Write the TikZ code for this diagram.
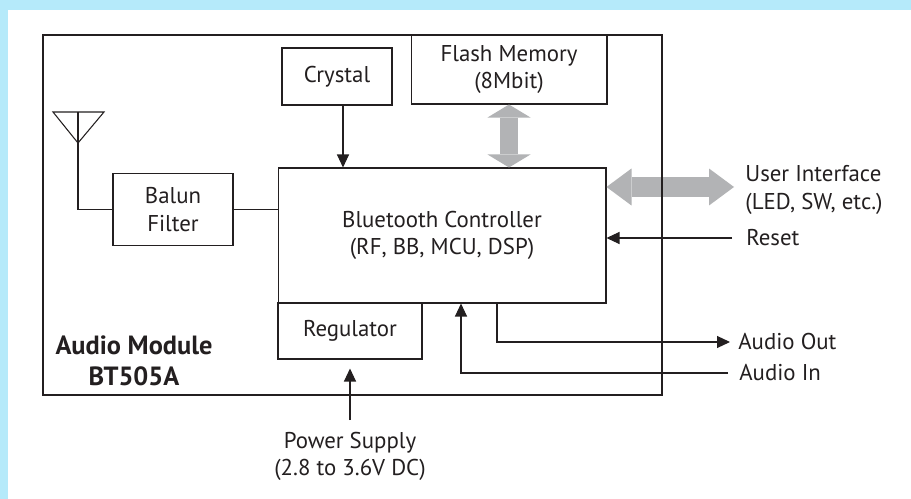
\documentclass[tikz,border=0pt]{standalone}
\usepackage{fontspec}
\setmainfont{PT Sans}
\usetikzlibrary{arrows.meta,positioning,calc}
\definecolor{framecyan}{RGB}{181,234,250}
\definecolor{inkgray}{RGB}{35,31,32}
\definecolor{busgray}{RGB}{178,179,181}
\tikzset{
    % Block styles
    block/.style={
        rectangle, draw=inkgray, line width=0.6pt, fill=white,
        align=center, text=inkgray, inner sep=0pt,
        font=\fontsize{13}{15.5}\selectfont
    },
    modframe/.style={
        rectangle, draw=inkgray, line width=0.8pt,
        minimum width=12.38cm, minimum height=7.2cm
    },
    sigtext/.style={
        text=inkgray, inner sep=0pt, align=left,
        font=\fontsize{13}{15.5}\selectfont
    },
    % Connector styles
    sigline/.style={draw=inkgray, line width=0.6pt},
    sigarrow/.style={sigline, -{Triangle[length=0.26cm,width=0.24cm]}},
    busarrow/.style={
        draw=busgray, line width=0.36cm,
        {Triangle[length=0.26cm,width=0.86cm,line width=0pt]}-{Triangle[length=0.26cm,width=0.86cm,line width=0pt]}
    },
    uibus/.style={
        draw=busgray, line width=0.4cm,
        {Triangle[length=0.5cm,width=0.74cm,line width=0pt]}-{Triangle[length=0.5cm,width=0.74cm,line width=0pt]}
    }
}

\begin{document}
\begin{tikzpicture}[x=0.02cm,y=-0.02cm]

% Page background
\fill[framecyan] (0,0) rectangle (911,499);
\fill[white] (8,10) rectangle (911,499);
\useasboundingbox (0,0) rectangle (911,499);

% Blocks
\node[block, minimum width=2.2cm, minimum height=1.14cm] (crystal) at (337,76.5) {Crystal};
\node[block, minimum width=3.92cm, minimum height=1.38cm] (flash) at (509,69.5) {Flash Memory\\(8Mbit)};
\node[block, minimum width=2.4cm, minimum height=1.44cm] (balun) at (173,209.5) {Balun\\Filter};
\node[block, minimum width=6.56cm, minimum height=2.7cm] (bt) at (442,235.5) {Bluetooth Controller\\(RF, BB, MCU, DSP)};
\node[block, minimum width=2.88cm, minimum height=1.12cm] (reg) at (350,331) {Regulator};

% Module name
\node[sigtext, align=center, font=\fontsize{15}{17.5}\selectfont\bfseries] (modname) at (134,360.5) {Audio Module\\BT505A};

% Antenna
\coordinate (ant) at (78,112);
\draw[sigline] (53,112) -- (104,112) -- (78,143) -- cycle;
\draw[sigline] (ant) |- (balun.west);
\draw[sigline] (balun.east) -- (balun.east -| bt.west);

% Crystal and flash
\draw[sigarrow] ([xshift=0.12cm]crystal.south) -- ([xshift=0.12cm]crystal.south |- bt.north);
\draw[busarrow] (flash.south) -- (flash.south |- bt.north);

% External signals
\node[sigtext, anchor=west] (ui) at (745,190) {User Interface\\(LED, SW, etc.)};
\coordinate (uitip) at (734,187);
\draw[uibus] (bt.east |- uitip) -- (uitip);

\node[sigtext, anchor=west] (reset) at (746,238) {Reset};
\draw[sigarrow] ([xshift=-0.28cm]reset.west) -- (reset.west -| bt.east);

\node[sigtext, anchor=west] (aout) at (738,342) {Audio Out};
\draw[sigarrow] ([xshift=1.1cm]bt.south) |- ([xshift=-0.16cm]aout.west);

\node[sigtext, anchor=west] (ain) at (739,373) {Audio In};
\draw[sigarrow] ([xshift=-0.22cm]ain.west) -| ([xshift=0.38cm]bt.south);

% Power supply
\node[sigtext, align=center, anchor=north] (power) at (350,432) {Power Supply\\(2.8 to 3.6V DC)};
\draw[sigarrow] ([yshift=0.24cm]power.north) -- ([yshift=-0.18cm]reg.south);

% Module frame
\node[modframe] (module) at (352.5,215) {};

\end{tikzpicture}
\end{document}
